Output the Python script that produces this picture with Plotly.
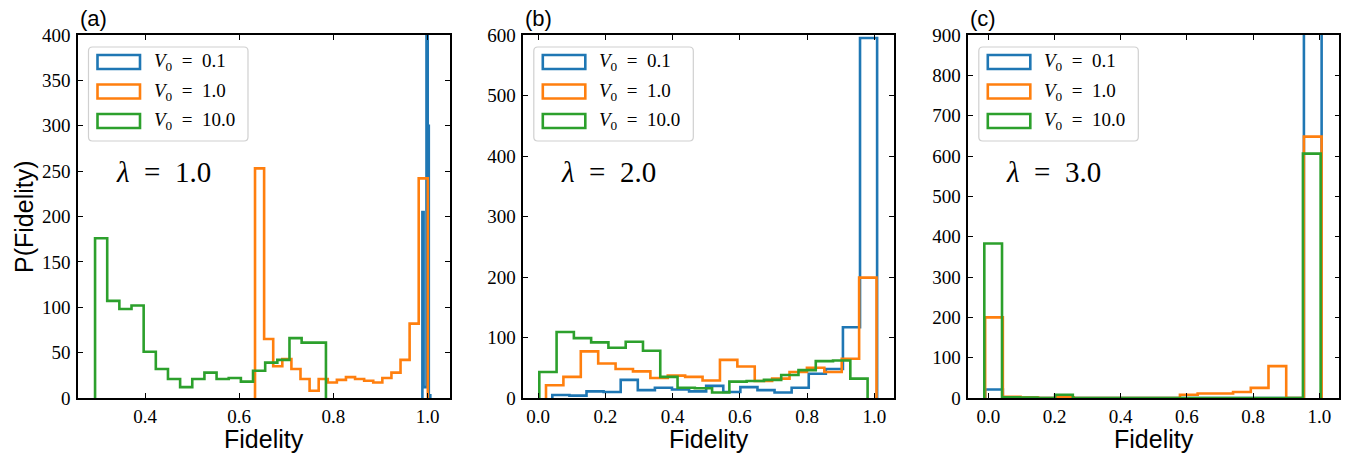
import numpy as np
import plotly.graph_objects as go

# ---------------- data: histogram counts of the fidelity (1000 runs each) ----------------
labels_v0 = ["0.1", "1.0", "10.0"]
lambdas = ["1.0", "2.0", "3.0"]

# (a) lambda = 1.0
a_blue_edges = [0.9887, 0.9913, 0.9974, 1.0000, 1.0023, 1.0055]
a_blue_counts = [205, 12, 480, 300, 3]
a_orange_range = (0.6335, 1.0002)
a_orange_counts = [253, 65, 35, 43, 32, 21, 8, 21, 17, 20, 23, 21, 19, 17, 22, 28, 42, 82, 242]
a_green_range = (0.294, 0.784)
a_green_counts = [176, 107, 98, 102, 51, 32, 21, 12, 21, 28, 21, 22, 18, 30, 39, 42, 66, 61, 61]

# (b) lambda = 2.0
b_blue_range = (0.0426, 1.0083)
b_blue_counts = [5, 4, 11, 10, 30, 13, 17, 14, 11, 20, 10, 18, 13, 9, 17, 40, 48, 117, 595]
b_orange_range = (0.0238, 1.0065)
b_orange_counts = [21, 35, 77, 57, 48, 44, 33, 37, 35, 29, 63, 52, 28, 32, 43, 50, 43, 65, 199]
b_green_range = (0.0039, 0.9800)
b_green_counts = [43, 109, 99, 92, 83, 93, 78, 35, 17, 16, 9, 27, 28, 30, 38, 46, 61, 62, 32]

# (c) lambda = 3.0
c_blue_range = (-0.0095, 1.0070)
c_blue_counts = [21, 1, 0, 0, 0, 0, 0, 0, 0, 0, 0, 0, 0, 0, 0, 0, 0, 0, 978]
c_orange_range = (-0.0095, 1.0070)
c_orange_counts = [200, 3, 1, 0, 2, 0, 0, 0, 0, 0, 0, 8, 11, 11, 15, 25, 79, 0, 648]
c_green_range = (-0.0120, 1.0040)
c_green_counts = [383, 2, 1, 0, 8, 0, 0, 0, 0, 0, 0, 0, 0, 0, 0, 0, 0, 0, 606]

# axis settings per panel
x_ranges = [[0.2578, 1.0473], [-0.0437, 1.0585], [-0.0604, 1.0604]]
x_ticks = [[0.4, 0.6, 0.8, 1.0], [0.0, 0.2, 0.4, 0.6, 0.8, 1.0], [0.0, 0.2, 0.4, 0.6, 0.8, 1.0]]
y_ranges = [[0, 400], [0, 600], [0, 900]]
y_dticks = [50, 100, 100]
panel_tags = ["(a)", "(b)", "(c)"]

colors = ["#1f77b4", "#ff7f0e", "#2ca02c"]

W, H = 1346, 453
ax_left = [78, 523.3, 968.3]
ax_right = [450, 894, 1339.3]
ax_top, ax_bottom = 35, 398

SERIF = "Liberation Serif, DejaVu Serif, serif"
SANS = "Liberation Sans, Arial, sans-serif"
SP = "\u2002"  # en space, mimics math spacing around "="


def px(x):
    return x / W


def py(y):
    return 1 - y / H


def edges_from(rng, n):
    return np.linspace(rng[0], rng[1], n + 1)


def step_outline(edges, counts):
    """Outline of a step histogram (no closing baseline)."""
    xs = [edges[0]] + list(edges)
    ys = [0] + list(counts) + [0]
    return xs, ys


panels = [
    [(np.array(a_blue_edges), a_blue_counts),
     (edges_from(a_orange_range, len(a_orange_counts)), a_orange_counts),
     (edges_from(a_green_range, len(a_green_counts)), a_green_counts)],
    [(edges_from(b_blue_range, len(b_blue_counts)), b_blue_counts),
     (edges_from(b_orange_range, len(b_orange_counts)), b_orange_counts),
     (edges_from(b_green_range, len(b_green_counts)), b_green_counts)],
    [(edges_from(c_blue_range, len(c_blue_counts)), c_blue_counts),
     (edges_from(c_orange_range, len(c_orange_counts)), c_orange_counts),
     (edges_from(c_green_range, len(c_green_counts)), c_green_counts)],
]

fig = go.Figure()
layout = dict(
    width=W, height=H, autosize=False,
    margin=dict(l=0, r=0, t=0, b=0, pad=0),
    paper_bgcolor="white", plot_bgcolor="white",
    showlegend=False,
)

shapes = []
annotations = []

for i, series in enumerate(panels):
    xa = "x" if i == 0 else f"x{i + 1}"
    ya = "y" if i == 0 else f"y{i + 1}"
    for (edges, counts), col in zip(series, colors):
        xs, ys = step_outline(edges, counts)
        fig.add_trace(go.Scatter(
            x=xs, y=ys, mode="lines", line=dict(color=col, width=2.6, shape="hv"),
            xaxis=xa, yaxis=ya, hoverinfo="skip",
        ))

    common = dict(
        showline=True, linecolor="black", linewidth=1.6, mirror="ticks",
        ticks="inside", ticklen=5, tickwidth=1.1, tickcolor="black",
        showgrid=False, zeroline=False, automargin=False,
        tickfont=dict(family=SERIF, size=19, color="black"),
    )
    layout["xaxis" if i == 0 else f"xaxis{i + 1}"] = dict(
        domain=[px(ax_left[i]), px(ax_right[i])], anchor=ya,
        range=x_ranges[i], tickvals=x_ticks[i],
        ticktext=[f"{v:.1f}" for v in x_ticks[i]],
        ticklabelstandoff=0, **common,
    )
    layout["yaxis" if i == 0 else f"yaxis{i + 1}"] = dict(
        domain=[py(ax_bottom), py(ax_top)], anchor=xa,
        range=y_ranges[i], dtick=y_dticks[i], tick0=0,
        ticklabelstandoff=2, **common,
    )

    L = ax_left[i]
    cx = (ax_left[i] + ax_right[i]) / 2

    # panel tag and x-axis title
    annotations.append(dict(x=px(L), y=py(19), xref="paper", yref="paper", text=panel_tags[i],
                            showarrow=False, xanchor="left", yanchor="middle",
                            font=dict(family=SANS, size=22, color="black")))
    annotations.append(dict(x=px(cx), y=py(439), xref="paper", yref="paper", text="Fidelity",
                            showarrow=False, xanchor="center", yanchor="middle",
                            font=dict(family=SANS, size=25, color="black")))
    # lambda label
    annotations.append(dict(x=px(L + 85), y=py(172), xref="paper", yref="paper",
                            text=f"<i>λ</i>{SP}={SP}{lambdas[i]}", showarrow=False,
                            xanchor="center", yanchor="middle",
                            font=dict(family=SERIF, size=29, color="black")))

    # legend frame
    bx0, bx1, by0, by1 = L + 10.5, L + 170, 47, 141
    r = 4
    path = (f"M {px(bx0 + r)} {py(by0)} L {px(bx1 - r)} {py(by0)} "
            f"Q {px(bx1)} {py(by0)} {px(bx1)} {py(by0 + r)} "
            f"L {px(bx1)} {py(by1 - r)} Q {px(bx1)} {py(by1)} {px(bx1 - r)} {py(by1)} "
            f"L {px(bx0 + r)} {py(by1)} Q {px(bx0)} {py(by1)} {px(bx0)} {py(by1 - r)} "
            f"L {px(bx0)} {py(by0 + r)} Q {px(bx0)} {py(by0)} {px(bx0 + r)} {py(by0)} Z")
    shapes.append(dict(type="path", path=path, xref="paper", yref="paper",
                       line=dict(color="#d0d0d0", width=1.2), fillcolor="rgba(255,255,255,0.85)",
                       layer="above"))
    for k, (col, lab) in enumerate(zip(colors, labels_v0)):
        yc = 62 + 29.5 * k
        shapes.append(dict(type="rect", xref="paper", yref="paper",
                           x0=px(L + 19.5), x1=px(L + 62), y0=py(yc - 7), y1=py(yc + 7),
                           line=dict(color=col, width=2.6), fillcolor="rgba(0,0,0,0)",
                           layer="above"))
        annotations.append(dict(x=px(L + 74), y=py(yc), xref="paper", yref="paper",
                                text=f"<i>V</i><sub>0</sub>{SP}={SP}{lab}", showarrow=False,
                                xanchor="left", yanchor="middle",
                                font=dict(family=SERIF, size=19, color="black")))

annotations.append(dict(x=px(24), y=py(217), xref="paper", yref="paper", text="P(Fidelity)",
                        showarrow=False, textangle=-90, xanchor="center", yanchor="middle",
                        font=dict(family=SANS, size=25, color="black")))

layout["shapes"] = shapes
layout["annotations"] = annotations
fig.update_layout(**layout)

fig.write_html("out.html")
